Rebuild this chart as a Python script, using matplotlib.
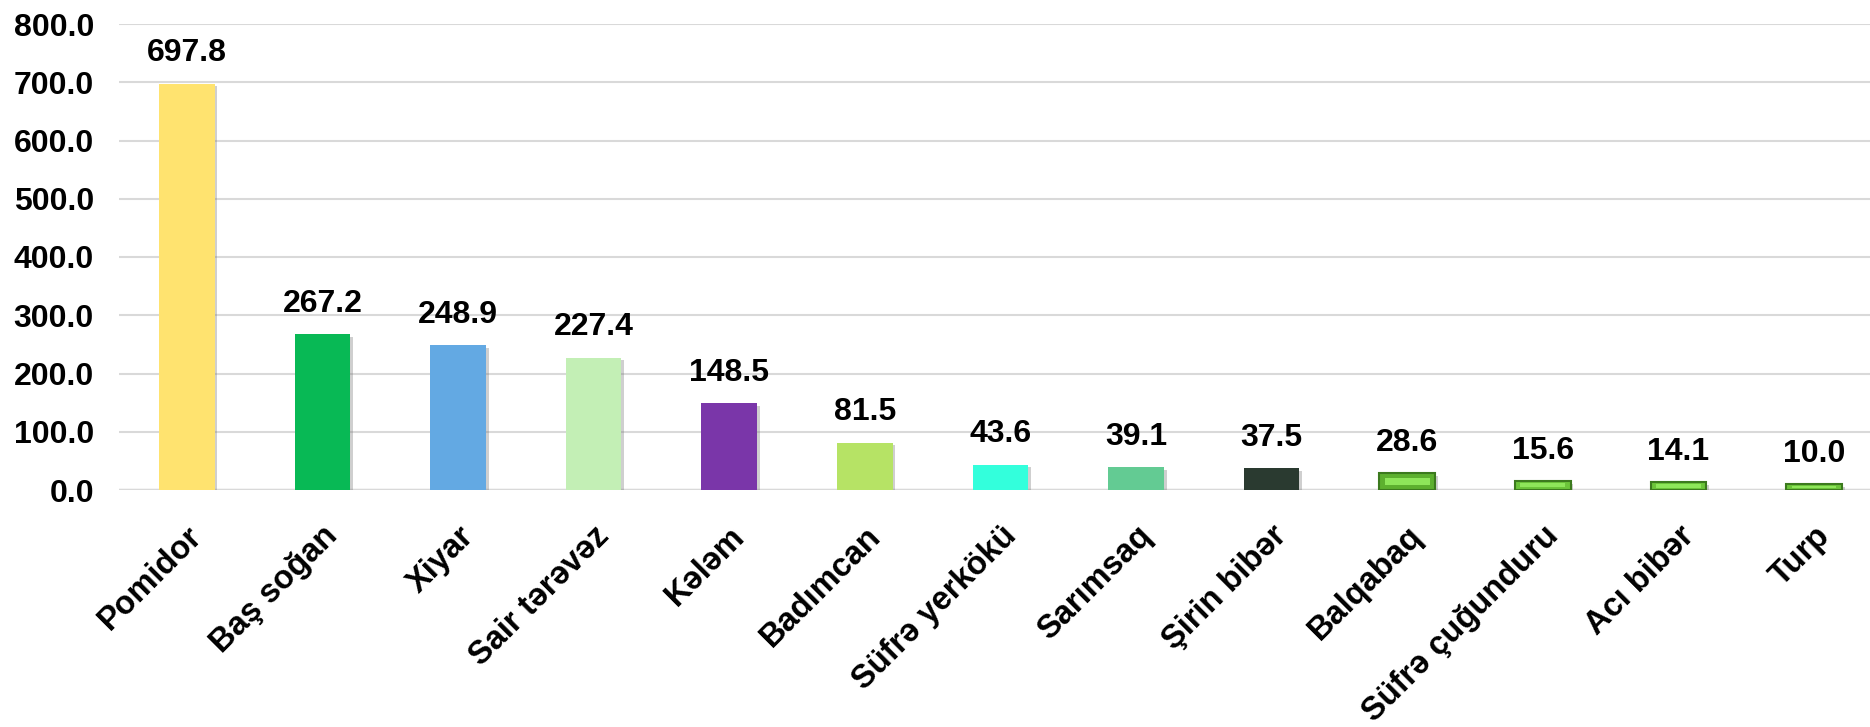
import matplotlib
matplotlib.use("Agg")
import matplotlib.pyplot as plt
import matplotlib.patheffects as pe
import numpy as np

categories = ["Pomidor", "Baş soğan", "Xiyar", "Sair tərəvəz", "Kələm", "Badımcan",
              "Süfrə yerkökü", "Sarımsaq", "Şirin bibər", "Balqabaq",
              "Süfrə çuğunduru", "Acı bibər", "Turp"]
values = [697.8, 267.2, 248.9, 227.4, 148.5, 81.5, 43.6, 39.1, 37.5, 28.6, 15.6, 14.1, 10.0]
colors = ["#FFE36F", "#08B955", "#63A9E3", "#C3EFB5", "#7A36A9", "#B6E365",
          "#33FFDC", "#63CB93", "#2A3A30", "#5DB02F", "#6CC53A", "#6CC53A", "#6CC53A"]
edges = [None] * 9 + ["#3C7A1E"] * 4
yticks = [0, 100, 200, 300, 400, 500, 600, 700, 800]

plt.rcParams['font.family'] = ['Liberation Sans', 'DejaVu Sans']

fig = plt.figure(figsize=(18.7, 7.27), dpi=100)
ax = fig.add_axes([119 / 1870, 1 - 490 / 727, 1 - 119 / 1870, (490 - 24) / 727])

x = np.arange(len(categories))
bars = ax.bar(x, values, width=0.41, color=colors, zorder=3)
for b, ec in zip(bars, edges):
    b.set_path_effects([pe.SimplePatchShadow(offset=(2, -2), alpha=0.35, shadow_rgbFace="#777777"),
                        pe.Normal()])
    if ec:
        b.set_edgecolor(ec)
        b.set_linewidth(1.5)

# bevel highlight on the small green bars
for xi, v, ec in zip(x, values, edges):
    if ec:
        ax.bar(xi, v * 0.45, bottom=v * 0.3, width=0.33, color="#8EE65A", zorder=4)

for xi, v in zip(x, values):
    ax.annotate(f"{v:.1f}", (xi, v), xytext=(0, 11), textcoords="offset points",
                ha="center", va="bottom", fontsize=23, fontweight="bold", zorder=5)

ax.set_ylim(0, 800)
ax.set_xlim(-0.5, (1870 - 119) / 135.6 - 0.5)
ax.set_yticks(yticks)
ax.set_yticklabels([f"{t:.1f}" for t in yticks], fontsize=23, fontweight="bold")
ax.yaxis.grid(True, color="#D9D9D9", lw=1.5, zorder=0)
ax.set_axisbelow(True)
ax.tick_params(axis="y", length=0, pad=18)
ax.tick_params(axis="x", length=0, pad=22)
ax.set_xticks(x)
ax.set_xticklabels(categories, rotation=45, ha="right", rotation_mode="anchor",
                   fontsize=23.5, fontweight="bold")
for s in ax.spines.values():
    s.set_visible(False)
ax.axhline(0, color="#D9D9D9", lw=2.5, zorder=2)

fig.savefig("out.png", dpi=100)
